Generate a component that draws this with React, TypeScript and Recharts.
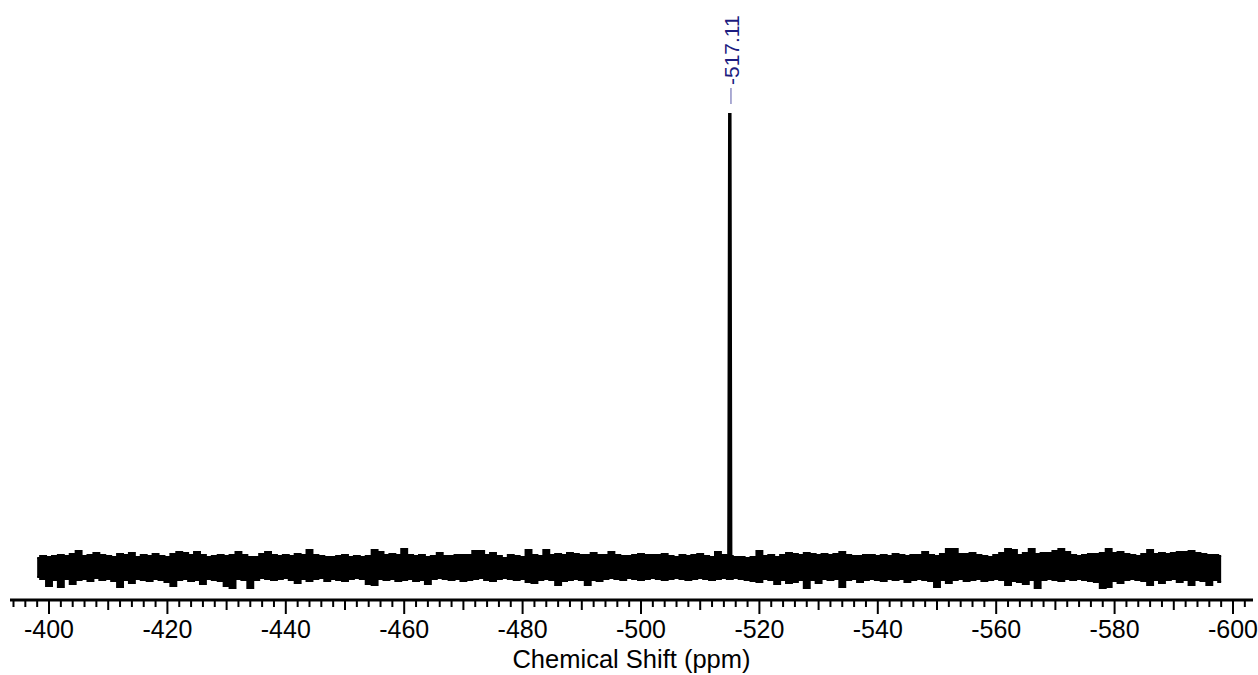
import React from "react"
import {
  ComposedChart, Area, Line, XAxis, YAxis,
  ReferenceLine, ReferenceDot,
} from "recharts"

// noise envelope, one sample per ppm from -398 to -598
const noiseTop = [
  10, 12, 11, 12, 13, 12, 14, 17, 12, 13, 15, 13, 12, 11, 14, 13, 15, 11, 13, 12,
  14, 12, 11, 14, 16, 15, 13, 16, 13, 11, 12, 13, 12,
  13, 16, 13, 11, 11, 14, 16, 13, 12, 13, 12, 14, 13, 18, 13, 12, 11, 11, 12, 13,
  11, 12, 11, 12, 18, 16, 13, 14, 13, 19, 13, 12, 13,
  11, 12, 15, 12, 12, 13, 13, 13, 17, 17, 13, 15, 12, 10, 13, 12, 11, 18, 13, 12,
  18, 13, 14, 13, 15, 14, 13, 13, 15, 13, 13, 16, 13, 12,
  12, 13, 14, 13, 13, 13, 14, 12, 11, 13, 12, 13, 14, 12, 11, 16, 13, 12, 11, 11,
  10, 11, 17, 12, 13, 11, 13, 15, 14, 13, 15, 14, 13,
  14, 13, 14, 16, 13, 12, 12, 13, 13, 12, 13, 12, 14, 13, 12, 13, 13, 16, 13, 12,
  14, 19, 19, 14, 14, 15, 13, 12, 11, 13, 15, 19, 18, 13,
  15, 19, 14, 15, 15, 17, 19, 16, 13, 12, 13, 14, 14, 15, 19, 15, 16, 14, 13, 12,
  14, 18, 14, 15, 14, 15, 16, 16, 17, 15, 14, 13, 13, 12,
]
const noiseBottom = [
  -9, -11, -18, -12, -19, -11, -16, -12, -11, -13, -10, -12, -11, -13, -19, -12, -15, -11, -12, -13,
  -11, -12, -14, -18, -12, -11, -13, -12, -16, -11, -12, -13, -18,
  -20, -11, -12, -20, -12, -10, -11, -12, -11, -10, -12, -15, -11, -13, -11, -10, -13, -11, -12, -13,
  -11, -10, -11, -16, -17, -11, -12, -11, -13, -12, -11, -13, -12,
  -16, -11, -10, -11, -12, -11, -13, -12, -11, -10, -12, -13, -11, -10, -11, -12, -11, -14, -15, -12,
  -11, -12, -17, -13, -12, -11, -12, -17, -12, -13, -11, -10, -11, -12,
  -10, -11, -12, -11, -10, -11, -12, -11, -10, -11, -12, -11, -10, -11, -12, -11, -10, -11, -10, -11,
  -12, -13, -14, -11, -12, -16, -12, -15, -14, -12, -20, -12, -15,
  -11, -12, -11, -19, -12, -11, -14, -12, -11, -12, -13, -11, -12, -11, -14, -12, -11, -12, -13, -19,
  -12, -15, -12, -11, -13, -12, -11, -13, -12, -11, -12, -17, -13, -14,
  -16, -12, -20, -12, -11, -12, -13, -11, -12, -11, -12, -13, -14, -20, -19, -13, -15, -12, -11, -12,
  -13, -17, -12, -15, -12, -11, -14, -12, -17, -12, -13, -17, -12, -14,
]
const noiseStartPpm = -398

// the single resonance
const peakPpm = [-514.85, -515, -515.15]
const peakHeight = [0, 455, 0]
const peakLabel = "-517.11"

const majorTicks = [-400, -420, -440, -460, -480, -500, -520, -540, -560, -580, -600]

const bandData = noiseTop.map((t, i) => ({ ppm: noiseStartPpm - i, band: [noiseBottom[i], t] }))
const peakData = peakPpm.map((p, i) => ({ ppm: p, peak: peakHeight[i] }))

const allTicks: number[] = []
for (let v = -394; v >= -602; v -= 2) allTicks.push(v)

const font = '"Liberation Sans", Arial, sans-serif'

function PpmTick({ x, y, payload }: any) {
  const v = payload.value
  const major = majorTicks.includes(v)
  const mid = !major && v % 10 === 0
  const len = major ? 14 : mid ? 10 : 7
  return (
    <g>
      <line x1={x} x2={x} y1={y} y2={y + len} stroke="#000" strokeWidth={2} />
      {major && (
        <text x={x} y={y + 38} textAnchor="middle" fontSize={25} fontFamily={font} fill="#000">
          {v}
        </text>
      )}
    </g>
  )
}

function PeakText({ cx, cy }: any) {
  const tx = cx + 8
  return (
    <text
      x={tx} y={cy}
      transform={`rotate(-90 ${tx} ${cy})`}
      fontSize={21} fontFamily={font} fill="#1c1c80"
    >
      {peakLabel}
    </text>
  )
}

export default function App() {
  return (
    <div style={{ position: "absolute", left: 0, top: 0, width: 1258, height: 675, background: "#fff" }}>
      <ComposedChart
        width={1258} height={675}
        data={bandData}
        margin={{ top: 0, right: 5, left: 10, bottom: 0 }}
      >
        <XAxis
          dataKey="ppm" type="number"
          domain={[-603.38, -393.41]} reversed allowDataOverflow
          ticks={allTicks} interval={0}
          tick={<PpmTick />} tickLine={false} tickSize={0} tickMargin={0}
          axisLine={{ stroke: "#000", strokeWidth: 3 }}
          height={75}
          label={{
            value: "Chemical Shift (ppm)", position: "insideBottom", offset: 7,
            style: { fontSize: 25.5, fontFamily: font, fill: "#000" },
          }}
        />
        <YAxis hide type="number" domain={[-32, 568]} allowDataOverflow />
        <Area
          dataKey="band" type="step"
          stroke="#000" strokeWidth={2} fill="#000" fillOpacity={1}
          isAnimationActive={false}
        />
        <Line
          data={peakData} dataKey="peak" type="linear"
          stroke="#000" strokeWidth={3.5} dot={false}
          isAnimationActive={false}
        />
        <ReferenceLine
          segment={[{ x: -515.2, y: 464 }, { x: -515.2, y: 480 }]}
          stroke="#5a5aa8" strokeWidth={1}
        />
        <ReferenceDot x={-515.2} y={483} r={0} shape={<PeakText />} />
      </ComposedChart>
    </div>
  )
}
